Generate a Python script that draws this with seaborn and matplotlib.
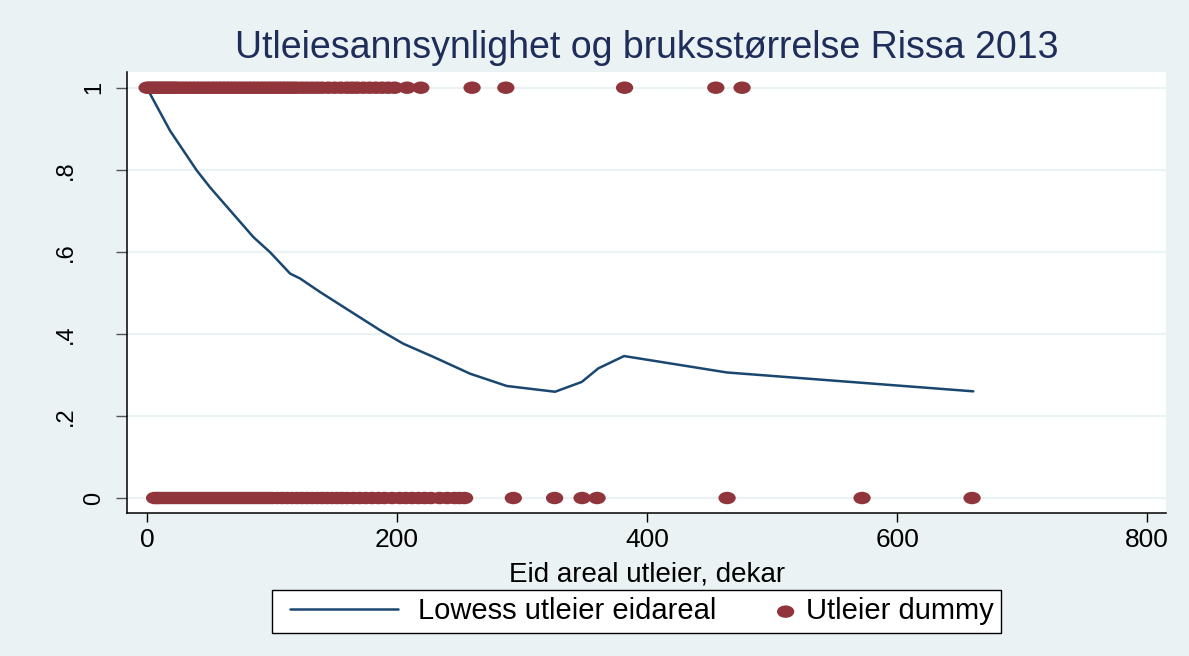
import matplotlib.pyplot as plt
import numpy as np
import pandas as pd
import seaborn as sns
from matplotlib.path import Path
from matplotlib.lines import Line2D
from matplotlib.collections import PathCollection
from matplotlib.legend_handler import HandlerLine2D, HandlerPathCollection
from matplotlib.transforms import ScaledTranslation

sns.set_theme(style="ticks")
plt.rcParams['font.family'] = ['Liberation Sans', 'DejaVu Sans']

# eid areal (dekar) for utleiere (1) og ikke-utleiere (0)
areal_utleier = [0, 2, 4, 6, 8, 10, 12, 14, 16, 18, 20, 22, 24, 27, 30, 33, 36, 39, 42, 45,
                 48, 51, 54, 57, 60, 63, 66, 69, 72, 75, 78, 81, 84, 87, 90, 93, 96, 99, 102,
                 105, 108, 111, 114, 117, 120, 124, 128, 132, 136, 140, 145, 150, 155, 160,
                 164, 168, 173, 178, 183, 188, 193, 198, 208, 219, 260, 287, 382, 455, 476]
areal_ikke = [6, 8, 10, 13, 16, 19, 22, 25, 28, 31, 34, 37, 40, 43, 46, 49, 52, 55, 58, 61,
              64, 67, 70, 73, 76, 79, 82, 85, 88, 91, 94, 97, 100, 104, 108, 112, 116, 120,
              124, 128, 132, 136, 140, 144, 148, 152, 156, 160, 165, 170, 175, 180, 185, 190,
              196, 202, 207, 212, 217, 222, 227, 234, 240, 246, 250, 254, 293, 326, 348, 360,
              464, 572, 660]

# lowess-kurve
lowess_x = [0, 2.4, 18.4, 39.8, 50.4, 66.4, 85, 98.4, 114.4, 122.4, 138.4, 167.8, 186.4,
            205, 229, 258.4, 287.8, 326.4, 347.8, 361, 381.6, 463.8, 661]
lowess_y = [1.0, 0.985, 0.895, 0.798, 0.757, 0.701, 0.636, 0.599, 0.547, 0.535, 0.502,
            0.445, 0.409, 0.376, 0.344, 0.303, 0.273, 0.259, 0.283, 0.316, 0.346, 0.306, 0.260]

ytick_vals = [0, 0.2, 0.4, 0.6, 0.8, 1]
ytick_labels = ['0', '.2', '.4', '.6', '.8', '1']
xtick_vals = [0, 200, 400, 600, 800]

dfPts = pd.DataFrame({'areal': areal_utleier + areal_ikke,
                      'utleier': [1] * len(areal_utleier) + [0] * len(areal_ikke)})
dfLow = pd.DataFrame({'areal': lowess_x, 'p': lowess_y})

bg = '#EAF2F3'
navy = '#1A476F'
maroon = '#90353B'

# litt utstrakt prikk, som i originalen
circ = Path.unit_circle()
ellipse = Path(circ.vertices * np.array([1.0, 0.72]), circ.codes)


class ShiftedLine(HandlerLine2D):
    def get_xdata(self, legend, xdescent, ydescent, width, height, fontsize):
        xd, xm = super().get_xdata(legend, xdescent, ydescent, width, height, fontsize)
        return [xd[0] + 7.7, xd[-1]], xm


class RightDot(HandlerPathCollection):
    def get_xdata(self, legend, xdescent, ydescent, width, height, fontsize):
        xd = [width - xdescent]
        return xd, xd


fig = plt.figure(figsize=(11.89, 6.56), dpi=100, facecolor=bg)
ax = fig.add_axes([0.1071, 0.218, 0.8736, 0.6727])
ax.set_facecolor('white')

sns.lineplot(data=dfLow, x='areal', y='p', sort=False, estimator=None, color=navy,
             lw=1.8, ax=ax, label='Lowess utleier eidareal', zorder=2)
sns.scatterplot(data=dfPts, x='areal', y='utleier', marker=ellipse, s=155, color=maroon,
                edgecolor='none', linewidth=0, ax=ax, label='Utleier dummy', zorder=3)

ax.set_xlim(-15.8, 815.2)
ax.set_ylim(-0.0365, 1.039)
ax.set_xticks(xtick_vals)
ax.set_yticks(ytick_vals)
ax.set_yticklabels(ytick_labels, rotation=90, va='center')
ax.yaxis.grid(True, color=bg, lw=1.6)
ax.xaxis.grid(False)
sns.despine(ax=ax)
for s in ['left', 'bottom']:
    ax.spines[s].set_color('black')
    ax.spines[s].set_linewidth(1.1)
ax.tick_params(axis='x', length=6.5, width=1, color='black', labelcolor='black',
               labelsize=19, pad=4.5)
ax.tick_params(axis='y', length=8, width=1, color='#555555', labelcolor='black',
               labelsize=17, pad=8)

ax.set_xlabel('Eid areal utleier, dekar', fontsize=20, labelpad=6.5, color='black')
ax.set_ylabel('')
ax.set_title('Utleiesannsynlighet og bruksstørrelse Rissa 2013', fontsize=27,
             color='#1F2D5A', pad=9.6)

handles, labels = ax.get_legend_handles_labels()
if ax.get_legend() is not None:
    ax.get_legend().remove()
leg = fig.legend(handles, labels, loc='upper left', bbox_to_anchor=(272 / 1189, 1 - 590 / 656),
                 ncol=2, fontsize=21, frameon=True, fancybox=False, framealpha=1,
                 edgecolor='black', borderpad=0.25, handlelength=4.07, handletextpad=0.69,
                 columnspacing=-1.7, borderaxespad=0,
                 handler_map={Line2D: ShiftedLine(), PathCollection: RightDot()})
leg.get_frame().set_linewidth(1)
for t in leg.get_texts():
    t.set_color('black')

# Stata skyver .2-.8 lenger ut enn 0 og 1
for lab in ax.get_yticklabels():
    if lab.get_text() not in ('0', '1'):
        lab.set_transform(lab.get_transform() + ScaledTranslation(-0.28, 0, fig.dpi_scale_trans))

fig.savefig('out.png', dpi=100, facecolor=fig.get_facecolor())
